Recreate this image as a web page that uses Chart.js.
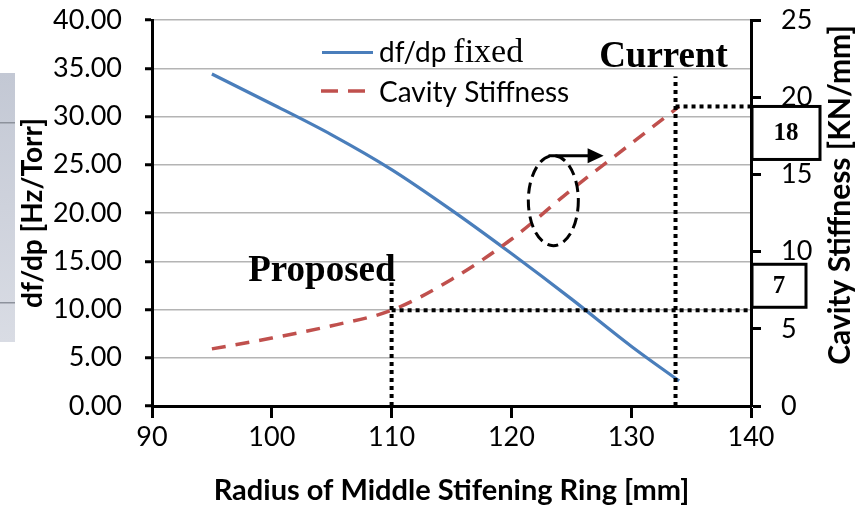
<!DOCTYPE html>
<html>
<head>
<meta charset="utf-8">
<script src="https://cdn.jsdelivr.net/npm/chart.js@4/dist/chart.umd.min.js"></script>
<style>
  html, body { margin: 0; padding: 0; background: #fff; }
  canvas { display: block; }
</style>
</head>
<body>
<canvas id="chart" width="856" height="505"></canvas>
<script>
// Radius of the middle stiffening ring [mm]
const radius = [95, 100, 105, 110, 115, 120, 125, 130, 134];
// df/dp with the ring fixed [Hz/Torr] (left axis)
const dfdpFixed = [34.4, 31.3, 28.1, 24.5, 20.3, 15.8, 11.1, 6.2, 2.6];
// Cavity stiffness [KN/mm] (right axis)
const cavityStiffness = [3.7, 4.4, 5.2, 6.2, 8.2, 10.8, 14.0, 17.0, 19.4];

// Axis ticks
const xTicks = [90, 100, 110, 120, 130, 140];
const leftTicks = [0, 5, 10, 15, 20, 25, 30, 35, 40];
const rightTicks = [0, 5, 10, 15, 20, 25];

// Design points: proposed and current ring radius
const designNames = ['Proposed', 'Current'];
const designRadius = [110, 133.7];
const designStiffness = [6.2, 19.4];
const designGuideTop = [8.0, 21.35];   // top of the vertical guide, in KN/mm
const designBoxText = ['7', '18'];

// Stiffness-curve callout (ellipse + arrow to the right axis)
const calloutCenter = [123.5, 13.3];   // [mm, KN/mm]
const calloutArrow = [123.1, 127.7, 16.2];

const LEFT_W = 152, RIGHT_W = 105, BOTTOM_H = 99;
const SANS = 'Lato, "Open Sans", sans-serif';
const SERIF = '"Liberation Serif", "DejaVu Serif", serif';

const pts = (xs, ys) => xs.map((x, i) => ({ x, y: ys[i] }));

const guideStyle = {
  borderColor: '#000', borderWidth: 4, borderDash: [4, 4],
  pointRadius: 0, fill: false, yAxisID: 'y1', order: 0
};
const guides = [];
designRadius.forEach((r, i) => {
  guides.push(Object.assign({ label: designNames[i] + ' v', data: [{ x: r, y: 0 }, { x: r, y: designGuideTop[i] }] }, guideStyle));
  guides.push(Object.assign({ label: designNames[i] + ' h', data: [{ x: r, y: designStiffness[i] }, { x: 140, y: designStiffness[i] }] }, guideStyle));
});

// Axis sizes are fixed so the plot area sits at the same place every time
const fixY = w => s => { s.width = w; s.paddingTop = 0; s.paddingBottom = 0; };
const fixX = h => s => { s.height = h; s.paddingLeft = 0; s.paddingRight = 0; };

const sideDecor = {
  id: 'sideDecor',
  beforeDraw(chart) {
    const ctx = chart.ctx;
    ctx.save();
    const g = ctx.createLinearGradient(0, 73, 0, 342);
    g.addColorStop(0, '#c3c8d4');
    g.addColorStop(1, '#d9dce4');
    ctx.fillStyle = g;
    ctx.fillRect(0, 73, 15, 269);
    ctx.fillStyle = '#8d929c';
    ctx.fillRect(0, 122, 15, 1.5);
    ctx.fillRect(0, 302, 15, 1.5);
    ctx.restore();
  }
};

const annotations = {
  id: 'annotations',
  afterDraw(chart) {
    const ctx = chart.ctx;
    const xs = chart.scales.x, y1 = chart.scales.y1;
    ctx.save();

    // Legend
    ctx.lineWidth = 3;
    ctx.strokeStyle = '#4a7ebb';
    ctx.beginPath(); ctx.moveTo(322, 52.5); ctx.lineTo(373, 52.5); ctx.stroke();
    ctx.strokeStyle = '#c0504d';
    ctx.lineWidth = 3.5;
    ctx.setLineDash([17, 10]);
    ctx.beginPath(); ctx.moveTo(321, 91); ctx.lineTo(366, 91); ctx.stroke();
    ctx.setLineDash([]);
    ctx.fillStyle = '#000';
    ctx.textBaseline = 'alphabetic';
    ctx.textAlign = 'left';
    ctx.font = '28px ' + SANS;
    ctx.fillText('df/dp', 379, 62);
    const w1 = ctx.measureText('df/dp').width + 7;
    ctx.font = '34px ' + SERIF;
    ctx.fillText('fixed', 379 + w1, 62);
    ctx.font = '28px ' + SANS;
    ctx.fillText('Cavity Stiffness', 379, 101.5);

    // Design point labels and value boxes
    designRadius.forEach((r, i) => {
      const px = xs.getPixelForValue(r);
      const top = y1.getPixelForValue(designGuideTop[i]);
      const lvl = y1.getPixelForValue(designStiffness[i]);
      ctx.font = 'bold 37px ' + SERIF;
      ctx.fillStyle = '#000';
      if (i === 0) {
        ctx.textAlign = 'right';
        ctx.fillText(designNames[i], px + 4, top - 1);
      } else {
        ctx.textAlign = 'center';
        ctx.fillText(designNames[i], px - 12, top - 9);
      }
      const bx = chart.chartArea.right + 1;
      const bw = i === 0 ? 54 : 68;
      const bh = i === 0 ? 43 : 53;
      const by = i === 0 ? lvl - bh - 3 : lvl;
      ctx.fillStyle = '#fff';
      ctx.fillRect(bx, by, bw, bh);
      ctx.lineWidth = 3;
      ctx.strokeStyle = '#000';
      ctx.strokeRect(bx, by, bw, bh);
      ctx.fillStyle = '#000';
      ctx.font = 'bold 25px ' + SERIF;
      ctx.textAlign = 'center';
      ctx.textBaseline = 'middle';
      ctx.fillText(designBoxText[i], bx + bw / 2, by + bh / 2 + 1);
      ctx.textBaseline = 'alphabetic';
    });

    // Callout ellipse and arrow pointing to the right axis
    const cx = xs.getPixelForValue(calloutCenter[0]);
    const cy = y1.getPixelForValue(calloutCenter[1]);
    ctx.lineWidth = 3;
    ctx.strokeStyle = '#000';
    ctx.setLineDash([11, 6]);
    ctx.beginPath();
    ctx.ellipse(cx, cy, 25, 45, 0, 0, Math.PI * 2);
    ctx.stroke();
    ctx.setLineDash([]);
    const ax0 = xs.getPixelForValue(calloutArrow[0]);
    const ax1 = xs.getPixelForValue(calloutArrow[1]);
    const ay = y1.getPixelForValue(calloutArrow[2]);
    ctx.beginPath(); ctx.moveTo(ax0, ay); ctx.lineTo(ax1 - 12, ay); ctx.stroke();
    ctx.beginPath();
    ctx.moveTo(ax1, ay); ctx.lineTo(ax1 - 16, ay - 7.5); ctx.lineTo(ax1 - 16, ay + 7.5);
    ctx.closePath(); ctx.fill();

    // Right axis title, reading bottom to top
    ctx.translate(840, 195);
    ctx.rotate(-Math.PI / 2);
    ctx.font = 'bold 30px ' + SANS;
    ctx.textAlign = 'center';
    ctx.textBaseline = 'middle';
    ctx.fillText('Cavity Stiffness [KN/mm]', 0, 0);
    ctx.restore();
  }
};

new Chart(document.getElementById('chart'), {
  type: 'line',
  data: {
    datasets: [
      {
        label: 'df/dp fixed',
        data: pts(radius, dfdpFixed),
        yAxisID: 'y',
        borderColor: '#4a7ebb', borderWidth: 3.2,
        pointRadius: 0, cubicInterpolationMode: 'monotone', order: 2
      },
      {
        label: 'Cavity Stiffness',
        data: pts(radius, cavityStiffness),
        yAxisID: 'y1',
        borderColor: '#c0504d', borderWidth: 3.5, borderDash: [14, 10],
        pointRadius: 0, cubicInterpolationMode: 'monotone', order: 1
      },
      ...guides
    ]
  },
  options: {
    responsive: false,
    animation: false,
    devicePixelRatio: 1,
    layout: { padding: { top: 20, left: 0, right: 0, bottom: 0 } },
    plugins: { legend: { display: false }, tooltip: { enabled: false } },
    scales: {
      x: {
        type: 'linear', min: 90, max: 140,
        afterBuildTicks: s => { s.ticks = xTicks.map(v => ({ value: v })); },
        afterFit: fixX(BOTTOM_H),
        ticks: { color: '#000', font: { family: SANS, size: 27 }, padding: 3, maxRotation: 0 },
        grid: { drawOnChartArea: false, tickLength: 12, tickColor: '#000', tickWidth: 3 },
        border: { color: '#000', width: 3 },
        title: {
          display: true, text: 'Radius of Middle Stifening Ring [mm]', color: '#000',
          font: { family: SANS, size: 29, weight: 'bold', lineHeight: 1 }, padding: { top: 0, bottom: 0 }
        }
      },
      y: {
        position: 'left', min: 0, max: 40,
        afterBuildTicks: s => { s.ticks = leftTicks.map(v => ({ value: v })); },
        afterFit: fixY(LEFT_W),
        ticks: { color: '#000', font: { family: SANS, size: 27 }, padding: 23, callback: v => v.toFixed(2) },
        grid: { color: '#b4b4b4', lineWidth: 1.5, tickLength: 7, tickColor: '#000', tickWidth: 3 },
        border: { color: '#000', width: 3 },
        title: {
          display: true, text: 'df/dp [Hz/Torr]', color: '#000',
          font: { family: SANS, size: 28, weight: 'bold', lineHeight: 1.2 }, padding: { top: 16, bottom: 0 }
        }
      },
      y1: {
        position: 'right', min: 0, max: 25,
        afterBuildTicks: s => { s.ticks = rightTicks.map(v => ({ value: v })); },
        afterFit: fixY(RIGHT_W),
        ticks: { color: '#000', font: { family: SANS, size: 27 }, padding: 20 },
        grid: { drawOnChartArea: false, tickLength: 10, tickColor: '#000', tickWidth: 3 },
        border: { color: '#000', width: 3 }
      }
    }
  },
  plugins: [sideDecor, annotations]
});
</script>
</body>
</html>
